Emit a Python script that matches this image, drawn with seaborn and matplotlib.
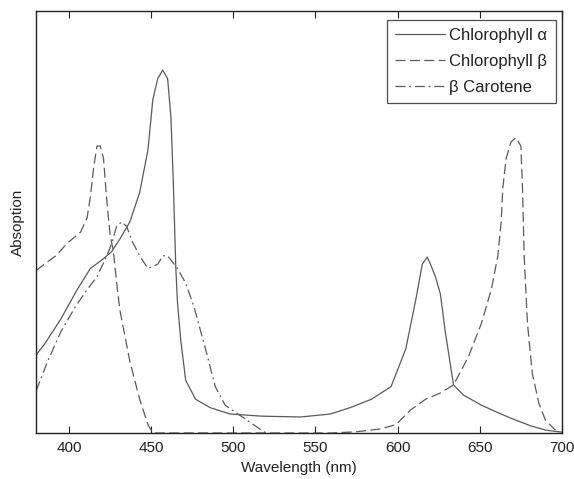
import matplotlib
matplotlib.use("Agg")
import matplotlib.pyplot as plt
import numpy as np
import pandas as pd
import seaborn as sns

# Chlorophyll a (solid)
chla_nm = [380, 385, 390, 395, 400, 405, 413, 420, 426, 431, 437, 443, 448, 451, 454, 457, 460,
           462, 463.5, 465, 466, 468, 471, 477, 486, 498, 517, 541, 559, 571, 584, 596, 605, 611,
           615, 618, 620, 623, 626, 629, 634, 640, 651, 660, 669, 681, 690, 700]
chla_abs = [0.185, 0.21, 0.24, 0.27, 0.305, 0.34, 0.39, 0.41, 0.43, 0.46, 0.50, 0.57, 0.67, 0.79,
            0.84, 0.86, 0.84, 0.75, 0.59, 0.39, 0.31, 0.22, 0.125, 0.08, 0.06, 0.045, 0.04, 0.038,
            0.045, 0.06, 0.08, 0.11, 0.20, 0.315, 0.40, 0.417, 0.40, 0.37, 0.33, 0.24, 0.114, 0.09,
            0.066, 0.05, 0.035, 0.017, 0.007, 0.002]

# Chlorophyll b (dashed)
chlb_nm = [380, 385, 392, 399, 407, 411, 413, 415, 417, 419, 421, 423, 425, 427, 429, 431, 437,
           443, 448, 451, 560, 575, 590, 599, 608, 617, 626, 634, 643, 651, 657, 661, 663, 664,
           666, 669, 672, 675, 676, 677, 679, 682, 686, 690, 696]
chlb_abs = [0.385, 0.40, 0.42, 0.45, 0.476, 0.51, 0.56, 0.63, 0.68, 0.68, 0.65, 0.55, 0.47, 0.43,
            0.355, 0.29, 0.17, 0.08, 0.02, 0.0, 0.0, 0.003, 0.01, 0.02, 0.055, 0.08, 0.095, 0.114,
            0.18, 0.26, 0.34, 0.42, 0.50, 0.58, 0.65, 0.69, 0.70, 0.68, 0.58, 0.42, 0.26, 0.14,
            0.07, 0.03, 0.007]

# beta carotene (dash-dot)
car_nm = [380, 387, 395, 404, 411, 417, 423, 426, 429, 432, 435, 439, 443, 448, 454, 457, 460,
          466, 471, 476, 483, 489, 495, 510, 517, 520]
car_abs = [0.10, 0.17, 0.24, 0.30, 0.34, 0.37, 0.42, 0.45, 0.49, 0.50, 0.49, 0.45, 0.42, 0.39,
           0.40, 0.42, 0.42, 0.39, 0.355, 0.30, 0.20, 0.11, 0.066, 0.026, 0.007, 0.0]

labels = ["Chlorophyll \u03b1", "Chlorophyll \u03b2", "\u03b2 Carotene"]

sns.set_style("white")
plt.rcParams["font.family"] = ["Liberation Sans", "DejaVu Sans"]

fig = plt.figure(figsize=(5.74, 4.79), dpi=100)
ax = fig.add_axes([0.063, 0.096, 0.916, 0.881])

col = "#5a5a5a"
sns.lineplot(x=chla_nm, y=chla_abs, ax=ax, color=col, lw=0.9, label=labels[0])
sns.lineplot(x=chlb_nm, y=chlb_abs, ax=ax, color=col, lw=0.9, label=labels[1])
sns.lineplot(x=car_nm, y=car_abs, ax=ax, color=col, lw=0.9, label=labels[2])
ax.lines[1].set_dashes([8, 3.5])
ax.lines[2].set_dashes([8, 3, 1.5, 3])

ax.set_xlim(380, 700)
ax.set_ylim(0, 1)
ax.set_xticks([400, 450, 500, 550, 600, 650, 700])
ax.set_yticks([])
ax.tick_params(axis="x", direction="in", top=True, bottom=True, length=5, width=0.8,
               labelsize=11, colors="#222222", pad=6)
for s in ax.spines.values():
    s.set_color("#222222")
    s.set_linewidth(1.0)
ax.set_xlabel("Wavelength (nm)", fontsize=11, color="#222222")
ax.set_ylabel("Absoption", fontsize=11, color="#222222", labelpad=8)

leg = ax.legend(loc="upper right", bbox_to_anchor=(0.988, 0.979), fontsize=12, handlelength=3.0,
                handletextpad=0.25, frameon=True, fancybox=False, edgecolor="#222222",
                borderaxespad=0.0, labelspacing=0.65, borderpad=0.5)
leg.get_frame().set_linewidth(0.9)
for t in leg.get_texts():
    t.set_color("#222222")

fig.savefig("out.png", dpi=100)
